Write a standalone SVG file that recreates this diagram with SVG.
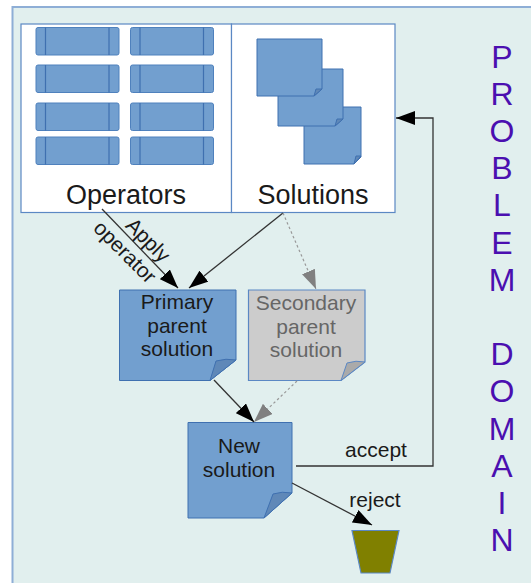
<svg xmlns="http://www.w3.org/2000/svg" width="531" height="583" viewBox="0 0 531 583">
<style>
text{font-family:"Liberation Sans",Arial,sans-serif;fill:#1a1a1a;text-anchor:middle}
.b{fill:#729fcf;stroke:#3f70b0;stroke-width:1}
.op{fill:#729fcf;stroke:#4f81bd;stroke-width:1}
.t{font-size:21px}
.big{font-size:27px}
.sm{font-size:21px}
.dom{font-size:32px;fill:#4b0fb0}
.c{fill:none;stroke:#333;stroke-width:1.3}
.g{fill:none;stroke:#999;stroke-width:1.2;stroke-dasharray:2.5 2.5}
.f{fill:#5f88b8;stroke:#3f70b0;stroke-width:1}
</style>
<defs>
<marker id="a" markerUnits="userSpaceOnUse" markerWidth="20" markerHeight="14" refX="19" refY="7" orient="auto"><path d="M0 0L19 7L0 14z" fill="#000"/></marker>
<marker id="ag" markerUnits="userSpaceOnUse" markerWidth="20" markerHeight="14" refX="19" refY="7" orient="auto"><path d="M0 0L19 7L0 14z" fill="#808080"/></marker>
<g id="opshape"><rect x="0" y="0" width="83" height="27.500" rx="2" class="op"/><path d="M9.500 0V27.500M73 0V27.500" stroke="#3f70b0" stroke-width="1.200" fill="none"/></g>
</defs>
<rect x="0" y="0" width="531" height="583" fill="#fff"/>
<rect id="panel" x="12.500" y="7" width="530" height="590" fill="#e1efee" stroke="#8eaed6" stroke-width="2"/>
<g id="operators">
<rect x="21" y="24" width="210.500" height="188.500" fill="#fff" stroke="#5b88c4" stroke-width="1.200"/>
<use href="#opshape" x="36" y="27.500"/><use href="#opshape" x="130.500" y="27.500"/>
<use href="#opshape" x="36" y="65"/><use href="#opshape" x="130.500" y="65"/>
<use href="#opshape" x="36" y="103"/><use href="#opshape" x="130.500" y="103"/>
<use href="#opshape" x="36" y="137"/><use href="#opshape" x="130.500" y="137"/>
<text class="big" x="126" y="204">Operators</text>
</g>
<g id="solutions">
<rect x="231.500" y="24" width="163.500" height="188.500" fill="#fff" stroke="#5b88c4" stroke-width="1.200"/>
<path class="b" d="M304 107H361V157L354 164H304z"/><path class="f" d="M354 164L356 156H361z"/>
<path class="b" d="M278 69H343V119L335 126H278z"/><path class="f" d="M335 126L337 119H343z"/>
<path class="b" d="M257 39H322V89L314 96H257z"/><path class="f" d="M314 96L316 89H322z"/>
<text class="big" x="313" y="204">Solutions</text>
</g>
<g id="primary">
<path class="b" d="M119.500 290H236V360L210 380.500H119.500z"/><path class="f" d="M210 380.500L216 361Q226 358 236 360z"/>
<text class="t" x="177" y="309">Primary</text><text class="t" x="177" y="333">parent</text><text class="t" x="177" y="356">solution</text>
</g>
<g id="secondary">
<path d="M248.500 290H365V362L341 380.500H248.500z" fill="#cccccc" stroke="#5b88c4" stroke-width="1.200"/><path d="M341 380.500L347 363Q356 360 365 362z" fill="#aaaaaa" stroke="#5b88c4"/>
<text class="t" x="306" y="310" style="fill:#666">Secondary</text><text class="t" x="306" y="334" style="fill:#666">parent</text><text class="t" x="306" y="357" style="fill:#666">solution</text>
</g>
<g id="new">
<path class="b" d="M188 422.500H292V493L264 518H188z"/><path class="f" d="M264 518L273 494Q282 491 292 493z"/>
<text class="t" x="239" y="453">New</text><text class="t" x="239" y="477">solution</text>
</g>
<g id="bin"><path d="M352 530.500H399L390 573H361z" fill="#808000" stroke="#5b88c4" stroke-width="1.200"/></g>
<g id="connectors">
<path class="c" d="M102 209L178 288" marker-end="url(#a)"/>
<path class="c" d="M283 213L189 288" marker-end="url(#a)"/>
<path class="g" d="M283 213L316 289" marker-end="url(#ag)"/>
<path class="c" d="M214 380L254 422" marker-end="url(#a)"/>
<path class="g" d="M297 381L254 422" marker-end="url(#ag)"/>
<path class="c" d="M296 466H433V118H396" stroke-width="1.500" marker-end="url(#a)"/>
<path class="c" d="M292 483L372 525" marker-end="url(#a)"/>
</g>
<g id="labels">
<text class="sm" transform="translate(143 245) rotate(45)">Apply</text>
<text class="sm" transform="translate(120 257) rotate(45)">operator</text>
<text class="sm" x="376" y="457">accept</text>
<text class="sm" x="375" y="507">reject</text>
</g>
<g id="domain">
<text class="dom" x="502" y="68">P</text><text class="dom" x="502" y="105">R</text><text class="dom" x="502" y="142">O</text><text class="dom" x="502" y="179">B</text><text class="dom" x="502" y="216">L</text><text class="dom" x="502" y="254">E</text><text class="dom" x="502" y="291">M</text>
<text class="dom" x="502" y="365">D</text><text class="dom" x="502" y="402">O</text><text class="dom" x="502" y="440">M</text><text class="dom" x="502" y="477">A</text><text class="dom" x="502" y="514">I</text><text class="dom" x="502" y="551">N</text>
</g>
</svg>
